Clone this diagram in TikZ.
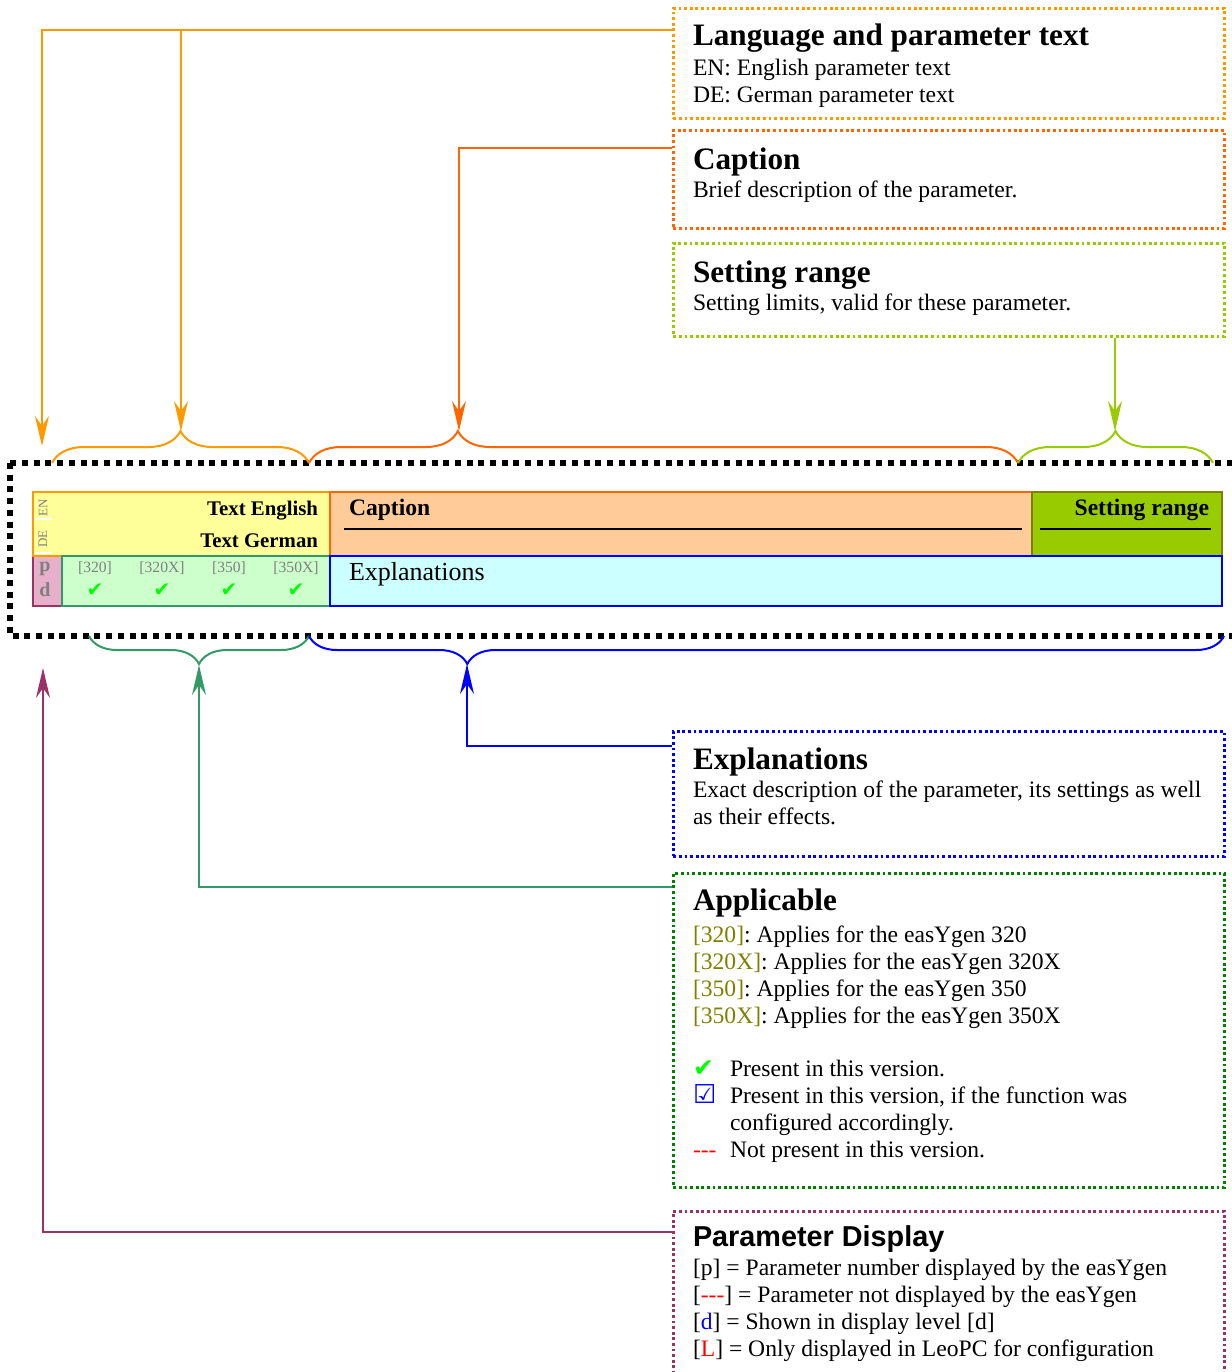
\documentclass[tikz,border=0pt]{standalone}
\usepackage{fontspec}
\setmainfont{Liberation Serif}
\setsansfont{Liberation Sans}
\newfontfamily\symfont{DejaVu Sans}
\usetikzlibrary{arrows.meta, calc, decorations.pathreplacing}
\definecolor{langor}{HTML}{FF9900}
\definecolor{capor}{HTML}{FF6600}
\definecolor{setlime}{HTML}{99CC00}
\definecolor{setolive}{HTML}{808000}
\definecolor{explblue}{HTML}{0000FF}
\definecolor{appsea}{HTML}{339966}
\definecolor{appdark}{HTML}{008000}
\definecolor{dispplum}{HTML}{993366}
\definecolor{langfill}{HTML}{FFFF99}
\definecolor{capfill}{HTML}{FFCC99}
\definecolor{appfill}{HTML}{CCFFCC}
\definecolor{explfill}{HTML}{CCFFFF}
\definecolor{dispfill}{HTML}{E6B0CA}
\definecolor{chkgreen}{HTML}{00FF00}
\definecolor{labgray}{HTML}{808080}
\newcommand{\boxheadfont}{\fontsize{15.6}{18}\selectfont\bfseries}
\newcommand{\boxbodyfont}{\fontsize{11.8}{13.5}\selectfont}
\frenchspacing

\begin{document}
\begin{tikzpicture}[x=0.5pt, y=-0.5pt, >={Stealth[length=15pt, width=7pt, inset=5pt]}, line width=1pt,
  infobox/.style={line width=1.4pt, dash pattern=on 1.4pt off 1.4pt, minimum width=275.5pt, anchor=north west, inner sep=0pt},
  infohead/.style={anchor=base west, inner sep=0pt, font=\boxheadfont},
  infobody/.style={anchor=base west, inner sep=0pt, align=left, font=\boxbodyfont},
  cell/.style={draw, line width=1pt, anchor=north west, inner sep=0pt},
  conn/.style={->, line width=1pt},
  bracetop/.style={decorate, line width=1pt, decoration={brace, amplitude=16pt, aspect=#1}},
  bracebot/.style={decorate, line width=1pt, decoration={brace, amplitude=14pt, aspect=#1}},
  verlab/.style={font=\fontsize{7.8}{9}\selectfont, text=labgray, inner sep=0pt, anchor=base},
  chk/.style={font=\symfont\fontsize{10}{11}\selectfont, text=chkgreen, inner sep=0pt}]

\useasboundingbox (0,0) rectangle (1232,1372);

% ========== Parameter table ==========
\draw[line width=3pt, dash pattern=on 3pt off 2.85pt] (10,463) rectangle (1250,636);

\node[cell, fill=dispfill, draw=dispplum, minimum width=14.5pt, minimum height=25pt] (pdcell) at (32,555) {};
\node[cell, fill=langfill, draw=langor, minimum width=148.5pt, minimum height=32pt] (langcell) at (32,491) {};
\node[cell, fill=capfill, draw=capor, minimum width=351pt, minimum height=32pt] (capcell) at (329,491) {};
\node[cell, fill=setlime, draw=setolive, minimum width=95pt, minimum height=32pt] (setcell) at (1031,491) {};
\node[cell, fill=appfill, draw=appsea, minimum width=134pt, minimum height=25pt] (appcell) at (61,555) {};
\node[cell, fill=explfill, draw=explblue, minimum width=446pt, minimum height=25pt] (explcell) at (329,555) {};

% language strip
\draw[white] (35,519) -- (52,519);
\draw[white] (35,553) -- (52,553);
\node[rotate=90, font=\fontsize{6.5}{8}\selectfont, text=labgray, inner sep=0pt] (enlab) at (43,508) {EN};
\node[rotate=90, font=\fontsize{6.5}{8}\selectfont, text=labgray, inner sep=0pt] (delab) at (43,539) {DE};
\node[font=\bfseries\fontsize{10.4}{12}\selectfont, anchor=base east, inner sep=0pt] (entext) at (319,515) {Text English};
\node[font=\bfseries\fontsize{10.4}{12}\selectfont, anchor=base east, inner sep=0pt] (detext) at (319,547) {Text German};

% caption and setting range
\node[font=\bfseries\fontsize{11.8}{14}\selectfont, anchor=base west, inner sep=0pt] (captext) at (348,515) {Caption};
\draw (344,529) -- (1022,529);
\node[font=\bfseries\fontsize{11.8}{14}\selectfont, anchor=base east, inner sep=0pt] (settext) at (1210,515) {Setting range};
\draw (1040,529) -- (1211,529);

% display and applicable
\node[font=\bfseries\fontsize{10}{12}\selectfont, text=labgray, inner sep=0pt] (plab) at (45,569) {p};
\node[font=\bfseries\fontsize{10}{12}\selectfont, text=labgray, inner sep=0pt] (dlab) at (45,590) {d};
\foreach \xp/\lab in {95/{[320]}, 162/{[320X]}, 229/{[350]}, 296/{[350X]}} {
  \node[verlab] (ver\xp) at (\xp,572) {\lab};
  \node[chk] (chk\xp) at (\xp,590) {✔};
}
\node[font=\fontsize{13}{15}\selectfont, anchor=base west, inner sep=0pt] (expltext) at (348,580) {Explanations};

% Braces
\draw[bracetop=0.5, langor] (52,463) -- (309,463);
\draw[bracetop=0.21, capor] (309,463) -- (1018,463);
\draw[bracetop=0.5, setlime] (1018,463) -- (1213,463);
\draw[bracebot=0.5, appsea] (309,636) -- (89,636);
\draw[bracebot=0.827, explblue] (1224,636) -- (309,636);

\coordinate (strippt) at (42,446);
\coordinate (langtip) at (181,431);
\coordinate (captip) at (459,431);
\coordinate (settip) at (1115,431);
\coordinate (apptip) at (199,665);
\coordinate (expltip) at (467,664);
\coordinate (disppt) at (43,668);

% ========== Description boxes ==========
% (a multi-line body node sits on the baseline of its last line)
\node[infobox, draw=langor, minimum height=55pt] (langbox) at (672,7) {};
\node[infohead] (langhead) at (692,45) {Language and parameter text};
\node[infobody] (langbody) at (692,102) {EN: English parameter text\\DE: German parameter text};

\node[infobox, draw=capor, minimum height=49pt] (capbox) at (672,129) {};
\node[infohead] (caphead) at (692,169) {Caption};
\node[infobody] (capbody) at (692,197) {Brief description of the parameter.};

\node[infobox, draw=setlime, minimum height=46.5pt] (setbox) at (672,242) {};
\node[infohead] (sethead) at (692,282) {Setting range};
\node[infobody] (setbody) at (692,310) {Setting limits, valid for these parameter.};

\node[infobox, draw=explblue, minimum height=62.5pt] (explbox) at (672,730) {};
\node[infohead] (explhead) at (692,769) {Explanations};
\node[infobody] (explbody) at (692,824) {Exact description of the parameter, its settings as well\\as their effects.};

\node[infobox, draw=appdark, minimum height=157pt] (appbox) at (672,872) {};
\node[infohead] (apphead) at (692,910) {Applicable};
\node[infobody] (appbody) at (692,1157) {\textcolor{setolive}{[320]}: Applies for the easYgen 320\\
  \textcolor{setolive}{[320X]}: Applies for the easYgen 320X\\
  \textcolor{setolive}{[350]}: Applies for the easYgen 350\\
  \textcolor{setolive}{[350X]}: Applies for the easYgen 350X\\[13pt]
  \makebox[18.5pt][l]{\textcolor{chkgreen}{\symfont\fontsize{12.5}{13.5}\selectfont ✔}}Present in this version.\\
  \makebox[18.5pt][l]{\textcolor{explblue}{\symfont\bfseries\fontsize{13}{13.5}\selectfont ☑}}Present in this version, if the function was\\
  \hspace*{18.5pt}configured accordingly.\\
  \makebox[18.5pt][l]{\textcolor{red}{-{}-{}-}}Not present in this version.};

\node[infobox, draw=dispplum, minimum height=100pt] (dispbox) at (672,1210) {};
\node[infohead, font=\sffamily\bfseries\fontsize{14.4}{17}\selectfont] (disphead) at (692,1246) {Parameter Display};
\node[infobody] (dispbody) at (692,1356) {[p] = Parameter number displayed by the easYgen\\
  \relax[\textcolor{red}{-{}-{}-}] = Parameter not displayed by the easYgen\\
  \relax[\textcolor{explblue}{d}] = Shown in display level [d]\\
  \relax[\textcolor{red}{L}] = Only displayed in LeoPC for configuration};

% ========== Connectors ==========
\coordinate (langout) at ($(langbox.north west)+(0,23)$);
\coordinate (capout) at ($(capbox.north west)+(0,19)$);
\coordinate (explout) at ($(explbox.north west)+(0,16)$);
\coordinate (appout) at ($(appbox.north west)+(0,15)$);
\coordinate (dispout) at ($(dispbox.north west)+(0,22)$);

\draw[conn, langor] (langout) -| (strippt);
\draw[conn, langor] (langout -| langtip) -- (langtip);
\draw[conn, capor] (capout) -| (captip);
\draw[conn, setlime] (settip |- setbox.south) -- (settip);
\draw[conn, explblue] (explout) -| (expltip);
\draw[conn, appsea] (appout) -| (apptip);
\draw[conn, dispplum] (dispout) -| (disppt);

\end{tikzpicture}
\end{document}
